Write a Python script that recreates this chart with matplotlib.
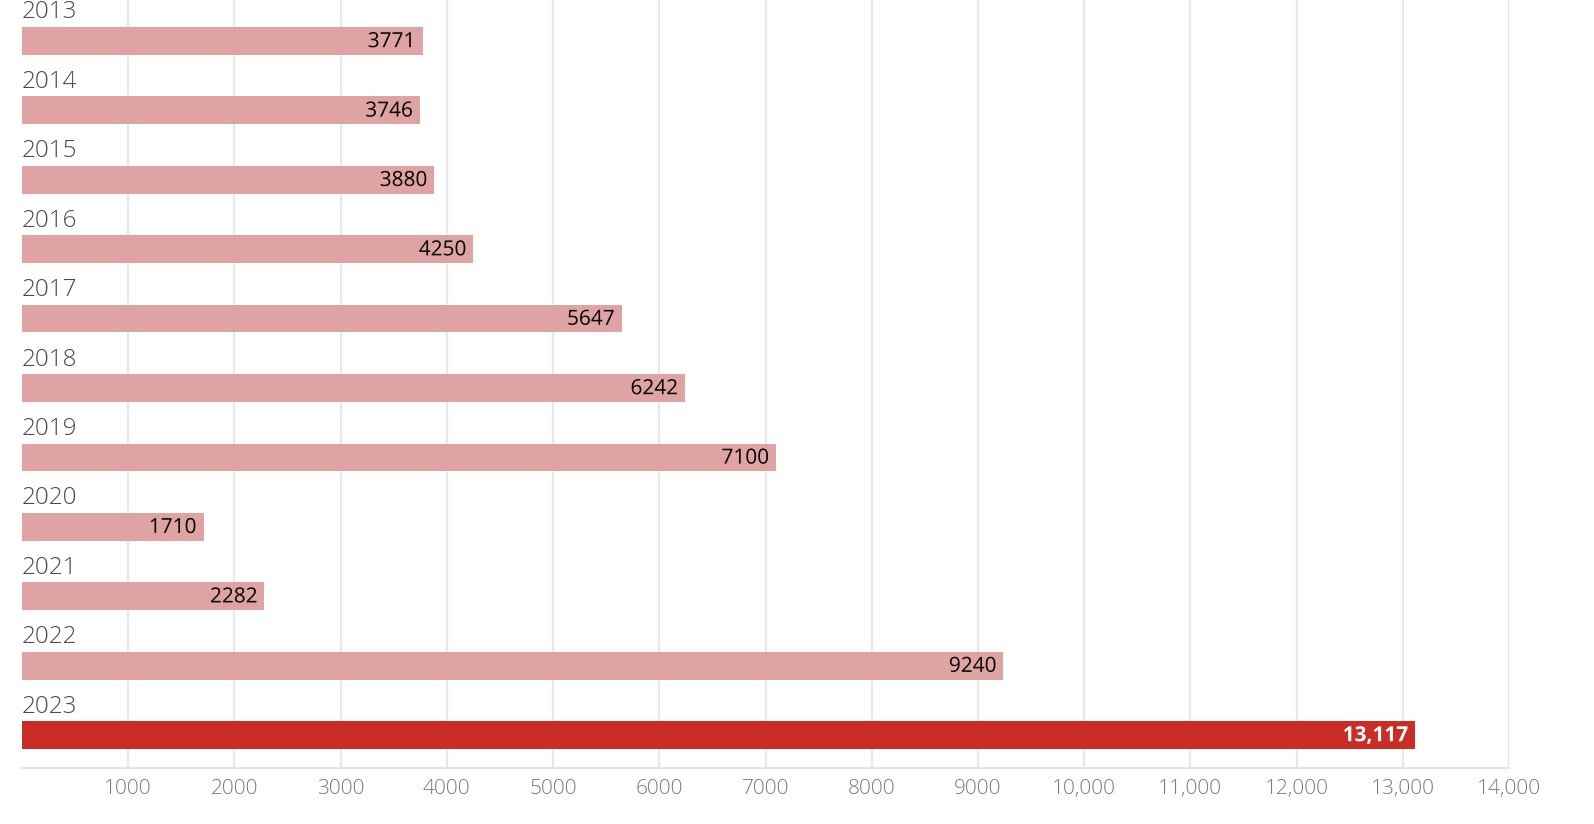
import matplotlib.pyplot as plt
import matplotlib.patheffects as pe
from matplotlib.ticker import FuncFormatter

years = ["2013", "2014", "2015", "2016", "2017", "2018", "2019", "2020", "2021", "2022", "2023"]
values = [3771, 3746, 3880, 4250, 5647, 6242, 7100, 1710, 2282, 9240, 13117]
xticks = [1000, 2000, 3000, 4000, 5000, 6000, 7000, 8000, 9000, 10000, 11000, 12000, 13000, 14000]

pale = "#e0a3a3"
red = "#c92d25"

plt.rcParams['font.family'] = ['Open Sans', 'DejaVu Sans']

fig = plt.figure(figsize=(15.94, 8.24), dpi=100)
ax = fig.add_axes([22 / 1594, 1 - 768 / 824, (1509 - 22) / 1594, 768 / 824])

pos = list(range(len(years)))
colors = [pale] * (len(years) - 1) + [red]
ax.barh(pos, values, height=0.40, color=colors, zorder=2)

ax.set_xlim(0, 14000)
ax.set_ylim(10.475, -0.59)

for i, (y, v) in enumerate(zip(years, values)):
    ax.text(0, i - 0.41, y, ha='left', va='center', fontsize=17.5, color='#4a4a4a',
            fontweight='light', zorder=3)
    last = i == len(years) - 1
    lab = "{:,}".format(v) if v >= 10000 else str(v)
    ax.text(v - 65, i + 0.01, lab, ha='right', va='center', fontsize=15,
            color='white' if last else 'black', fontweight='bold' if last else 'normal',
            path_effects=[pe.withStroke(linewidth=3, foreground=red if last else pale)],
            zorder=4)

ax.set_xticks(xticks)
ax.xaxis.set_major_formatter(FuncFormatter(lambda x, p: "{:,}".format(int(x)) if x >= 10000 else str(int(x))))
ax.set_yticks([])
ax.grid(axis='x', color='#e8e8e8', linewidth=1.6, zorder=0)
ax.tick_params(axis='x', length=0, pad=8, labelsize=15, labelcolor='#7a7a7a')
for lbl in ax.get_xticklabels():
    lbl.set_fontweight('light')
for s in ['top', 'right', 'left']:
    ax.spines[s].set_visible(False)
ax.spines['bottom'].set_color('#e5e5e5')
ax.spines['bottom'].set_linewidth(1.6)

fig.savefig("out.png", dpi=100)
